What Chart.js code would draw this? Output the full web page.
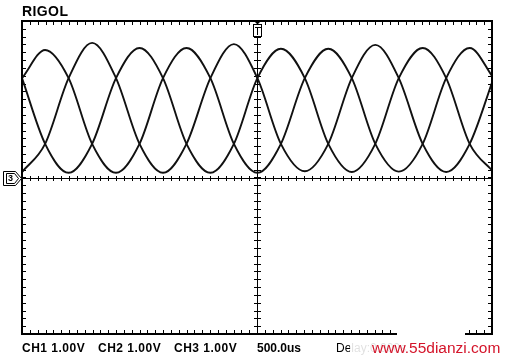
<!DOCTYPE html>
<html>
<head>
<meta charset="utf-8">
<title>RIGOL</title>
<script src="https://cdn.jsdelivr.net/npm/chart.js@4.4.1/dist/chart.umd.min.js"></script>
<style>
  html, body { margin: 0; padding: 0; background: #fff; }
  #wrap { width: 507px; height: 358px; position: relative; }
</style>
</head>
<body>
<div id="wrap"><canvas id="scope" width="507" height="358"></canvas></div>
<script>
// --- screen data (time in us, level in V) ---
const timesUs = [-3000, -2705, -2405, -2105, -1800, -1500, -1200, -900, -595, -295, 5,
                 305, 610, 910, 1210, 1510, 1810, 2115, 2415, 2715, 3020];
const ch1Volts = [2.54, 3.26, 2.54, 0.86, 0.12, 0.86, 2.54, 3.31, 2.54, 0.86, 0.12,
                  0.86, 2.54, 3.29, 2.54, 0.86, 0.15, 0.86, 2.54, 3.31, 2.54];
const ch2Volts = [0.14, 0.86, 2.54, 3.44, 2.54, 0.86, 0.12, 0.86, 2.54, 3.41, 2.54,
                  0.86, 0.16, 0.86, 2.54, 3.39, 2.54, 0.86, 0.14, 0.86, 2.54];
const ch3Volts = [2.54, 0.86, 0.12, 0.86, 2.54, 3.31, 2.54, 0.86, 0.12, 0.86, 2.54,
                  3.29, 2.54, 0.86, 0.14, 0.86, 2.54, 3.31, 2.54, 0.86, 0.14];
const channelLabels = ['CH1 1.00V', 'CH2 1.00V', 'CH3 1.00V'];
const timebaseLabel = '500.0us';
const delayLabel = 'Delay:0.000s';
const brandLabel = 'RIGOL';
const watermark = 'www.55dianzi.com';

// screen is 12 x 8 divisions, 500us and 1V per division
const X_MIN = -3000, X_MAX = 3000, X_MINOR = 100;
const Y_MIN = -4, Y_MAX = 4, Y_MINOR = 0.2;

const toPoints = (vals) => timesUs.map((t, i) => ({ x: t, y: vals[i] }));

// --- draws the scope frame, centre cross, ticks and markers ---
const scopeFrame = {
  id: 'scopeFrame',
  beforeDatasetsDraw(chart) {
    const { ctx, chartArea: a, scales: { x: xs, y: ys } } = chart;
    const cx = Math.round(xs.getPixelForValue(0));
    const cy = Math.round(ys.getPixelForValue(0));
    ctx.save();
    ctx.fillStyle = '#000';
    // centre cross
    ctx.fillRect(a.left, cy, a.right - a.left, 1);
    ctx.fillRect(cx, a.top, 1, a.bottom - a.top);
    // minor ticks along x
    for (let t = X_MIN; t <= X_MAX; t += X_MINOR) {
      const px = Math.round(xs.getPixelForValue(t));
      ctx.fillRect(px, a.top, 1, 4);
      ctx.fillRect(px, a.bottom - 4, 1, 4);
      ctx.fillRect(px, cy - 2, 1, 5);
    }
    // minor ticks along y
    for (let v = Y_MIN; v <= Y_MAX + 1e-9; v += Y_MINOR) {
      const py = Math.round(ys.getPixelForValue(v));
      ctx.fillRect(a.left, py, 4, 1);
      ctx.fillRect(a.right - 4, py, 4, 1);
      ctx.fillRect(cx - 3, py, 7, 1);
    }
    ctx.restore();
  },
  afterDraw(chart) {
    const { ctx, chartArea: a, scales: { x: xs, y: ys } } = chart;
    const cx = Math.round(xs.getPixelForValue(0));
    const cy = Math.round(ys.getPixelForValue(0));
    ctx.save();
    // outer frame
    ctx.strokeStyle = '#000';
    ctx.lineWidth = 2;
    ctx.strokeRect(a.left, a.top, a.right - a.left, a.bottom - a.top);

    // trigger position marker
    ctx.lineWidth = 1;
    ctx.fillStyle = '#fff';
    ctx.fillRect(cx - 3.5, a.top + 3.5, 8, 12);
    ctx.strokeRect(cx - 3.5, a.top + 3.5, 8, 12);
    ctx.fillStyle = '#000';
    ctx.beginPath();
    ctx.moveTo(cx - 3, a.top); ctx.lineTo(cx + 4, a.top); ctx.lineTo(cx + 0.5, a.top + 3.5);
    ctx.fill();
    ctx.fillRect(cx - 2, a.top + 6, 6, 1);
    ctx.fillRect(cx, a.top + 6, 1, 8);

    // ground level marker on the left
    ctx.strokeStyle = '#000';
    ctx.fillStyle = '#fff';
    ctx.beginPath();
    ctx.moveTo(3.5, cy - 6.5); ctx.lineTo(15.5, cy - 6.5); ctx.lineTo(21.5, cy + 0.5);
    ctx.lineTo(15.5, cy + 7.5); ctx.lineTo(3.5, cy + 7.5); ctx.closePath();
    ctx.fill(); ctx.stroke();
    ctx.beginPath();
    ctx.moveTo(6.5, cy - 4.5); ctx.lineTo(14.5, cy - 4.5); ctx.lineTo(18.5, cy + 0.5);
    ctx.lineTo(14.5, cy + 5.5); ctx.lineTo(6.5, cy + 5.5); ctx.closePath();
    ctx.stroke();
    ctx.fillStyle = '#000';
    ctx.font = 'bold 9px "Liberation Sans", Arial, sans-serif';
    ctx.textBaseline = 'middle';
    ctx.fillText('3', 8, cy + 1);

    // brand
    ctx.fillStyle = '#000';
    ctx.textBaseline = 'alphabetic';
    ctx.font = 'bold 14px "Liberation Sans", Arial, sans-serif';
    ctx.letterSpacing = '0.4px';
    ctx.fillText(brandLabel, a.left, 16);

    // status line
    ctx.font = 'bold 12px "Liberation Sans", Arial, sans-serif';
    ctx.letterSpacing = '0.5px';
    const base = 352;
    ctx.fillText(channelLabels[0], 22, base);
    ctx.fillText(channelLabels[1], 98, base);
    ctx.fillText(channelLabels[2], 174, base);
    ctx.letterSpacing = '0px';
    ctx.fillText(timebaseLabel, 257, base);
    ctx.font = '12px "Liberation Sans", Arial, sans-serif';
    ctx.fillText(delayLabel, 336, base);

    // watermark patch
    ctx.fillStyle = 'rgba(255,255,255,0.88)';
    ctx.fillRect(350, 338, 157, 20);
    ctx.fillStyle = '#fff';
    ctx.fillRect(397, a.bottom - 5, 68, 8);
    ctx.fillStyle = '#d4142a';
    ctx.font = '15.5px "Liberation Sans", Arial, sans-serif';
    ctx.fillText(watermark, 372, 353);
    ctx.restore();
  }
};

const lineStyle = {
  borderColor: '#111',
  borderWidth: 1.9,
  pointRadius: 0,
  fill: false,
  cubicInterpolationMode: 'monotone'
};

new Chart(document.getElementById('scope'), {
  type: 'line',
  data: {
    datasets: [
      { label: 'CH1', data: toPoints(ch1Volts), ...lineStyle },
      { label: 'CH2', data: toPoints(ch2Volts), ...lineStyle },
      { label: 'CH3', data: toPoints(ch3Volts), ...lineStyle }
    ]
  },
  options: {
    responsive: false,
    animation: false,
    devicePixelRatio: 1,
    layout: { padding: { left: 22, right: 15, top: 21, bottom: 24 } },
    scales: {
      x: { type: 'linear', min: X_MIN, max: X_MAX, display: false },
      y: { type: 'linear', min: Y_MIN, max: Y_MAX, display: false }
    },
    plugins: { legend: { display: false }, tooltip: { enabled: false } }
  },
  plugins: [scopeFrame]
});
</script>
</body>
</html>
